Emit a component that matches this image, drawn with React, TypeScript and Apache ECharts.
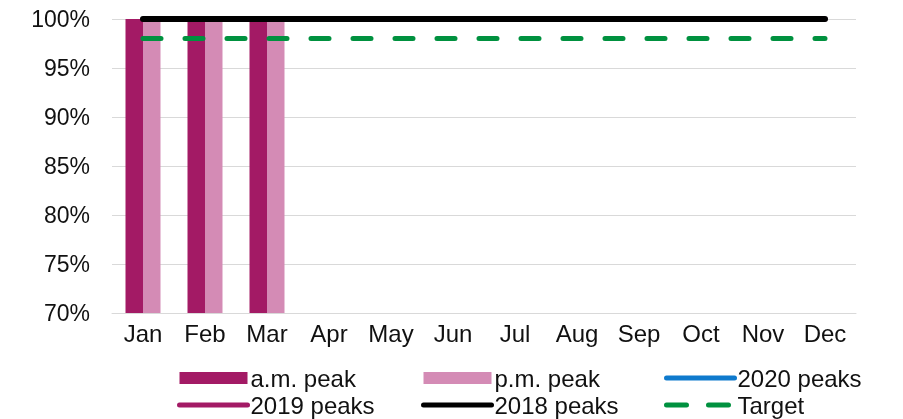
import React, { useEffect, useRef } from "react";
import * as echarts from "echarts";

const months = ["Jan", "Feb", "Mar", "Apr", "May", "Jun", "Jul", "Aug", "Sep", "Oct", "Nov", "Dec"];
const amPeak = [100, 100, 100, null, null, null, null, null, null, null, null, null];
const pmPeak = [100, 100, 100, null, null, null, null, null, null, null, null, null];
const peaks2020 = [null, null, null, null, null, null, null, null, null, null, null, null];
const peaks2019 = [100, 100, 100, 100, 100, 100, 100, 100, 100, 100, 100, 100];
const peaks2018 = [100, 100, 100, 100, 100, 100, 100, 100, 100, 100, 100, 100];
const target = [98, 98, 98, 98, 98, 98, 98, 98, 98, 98, 98, 98];

const FONT = "'Liberation Sans', Arial, sans-serif";
const TXT = "#111111";
const C_AM = "#a31a65";
const C_PM = "#d48bb5";
const C_2020 = "#0f7acd";
const C_2019 = "#a31a65";
const C_2018 = "#000000";
const C_TGT = "#00913f";

const hiddenSym = { opacity: 0 };

export default function App() {
  const ref = useRef<HTMLDivElement>(null);
  useEffect(() => {
    if (!ref.current) return;
    const chart = echarts.init(ref.current, undefined, { renderer: "svg" });
    const legendCommon = {
      orient: "vertical" as const,
      top: 366,
      padding: 0,
      itemWidth: 68,
      itemHeight: 12,
      itemGap: 3,
      textStyle: { fontSize: 24, color: TXT, fontFamily: FONT, padding: [0, 0, 0, -2] },
      selectedMode: false,
    };
    chart.setOption({
      animation: false,
      grid: { left: 112, right: 47, top: 19, bottom: 106 },
      legend: [
        {
          ...legendCommon,
          left: 177,
          data: [
            { name: "a.m. peak", icon: "rect" },
            { name: "2019 peaks", itemStyle: hiddenSym, lineStyle: { width: 5, color: C_2019, cap: "round" } },
          ],
        },
        {
          ...legendCommon,
          left: 421,
          data: [
            { name: "p.m. peak", icon: "rect" },
            { name: "2018 peaks", itemStyle: hiddenSym, lineStyle: { width: 5, color: C_2018, cap: "round" } },
          ],
        },
        {
          ...legendCommon,
          left: 664,
          data: [
            { name: "2020 peaks", itemStyle: hiddenSym, lineStyle: { width: 5, color: C_2020, cap: "round" } },
            {
              name: "Target",
              itemStyle: hiddenSym,
              lineStyle: { width: 5, color: C_TGT, cap: "round", type: [20, 22] },
            },
          ],
        },
      ],
      xAxis: {
        type: "category",
        data: months,
        axisTick: { show: false },
        axisLine: { lineStyle: { color: "#d9d9d9", width: 1 } },
        axisLabel: { fontSize: 24, color: TXT, fontFamily: FONT, margin: 8 },
      },
      yAxis: {
        type: "value",
        min: 70,
        max: 100,
        interval: 5,
        axisLabel: {
          fontSize: 23,
          color: TXT,
          fontFamily: FONT,
          margin: 22,
          formatter: (v: number) => v + "%",
        },
        splitLine: { lineStyle: { color: "#d9d9d9", width: 1 } },
        axisLine: { show: false },
        axisTick: { show: false },
      },
      series: [
        {
          name: "a.m. peak",
          type: "bar",
          data: amPeak,
          barWidth: 17.5,
          barGap: "0%",
          itemStyle: { color: C_AM },
        },
        {
          name: "p.m. peak",
          type: "bar",
          data: pmPeak,
          barWidth: 17.5,
          barGap: "0%",
          itemStyle: { color: C_PM },
        },
        {
          name: "2020 peaks",
          type: "line",
          data: peaks2020,
          symbol: "none",
          itemStyle: { color: C_2020 },
          lineStyle: { color: C_2020, width: 5, cap: "round" },
        },
        {
          name: "2019 peaks",
          type: "line",
          data: peaks2019,
          symbol: "none",
          itemStyle: { color: C_2019 },
          lineStyle: { color: C_2019, width: 5, cap: "round" },
        },
        {
          name: "2018 peaks",
          type: "line",
          data: peaks2018,
          symbol: "none",
          itemStyle: { color: C_2018 },
          lineStyle: { color: C_2018, width: 6, cap: "round" },
        },
        {
          name: "Target",
          type: "line",
          data: target,
          symbol: "none",
          itemStyle: { color: C_TGT },
          lineStyle: { color: C_TGT, width: 5, type: [18, 24], cap: "round" },
        },
      ],
    });
    return () => chart.dispose();
  }, []);
  return <div ref={ref} style={{ position: "fixed", left: 0, top: 0, width: 903, height: 419 }} />;
}
